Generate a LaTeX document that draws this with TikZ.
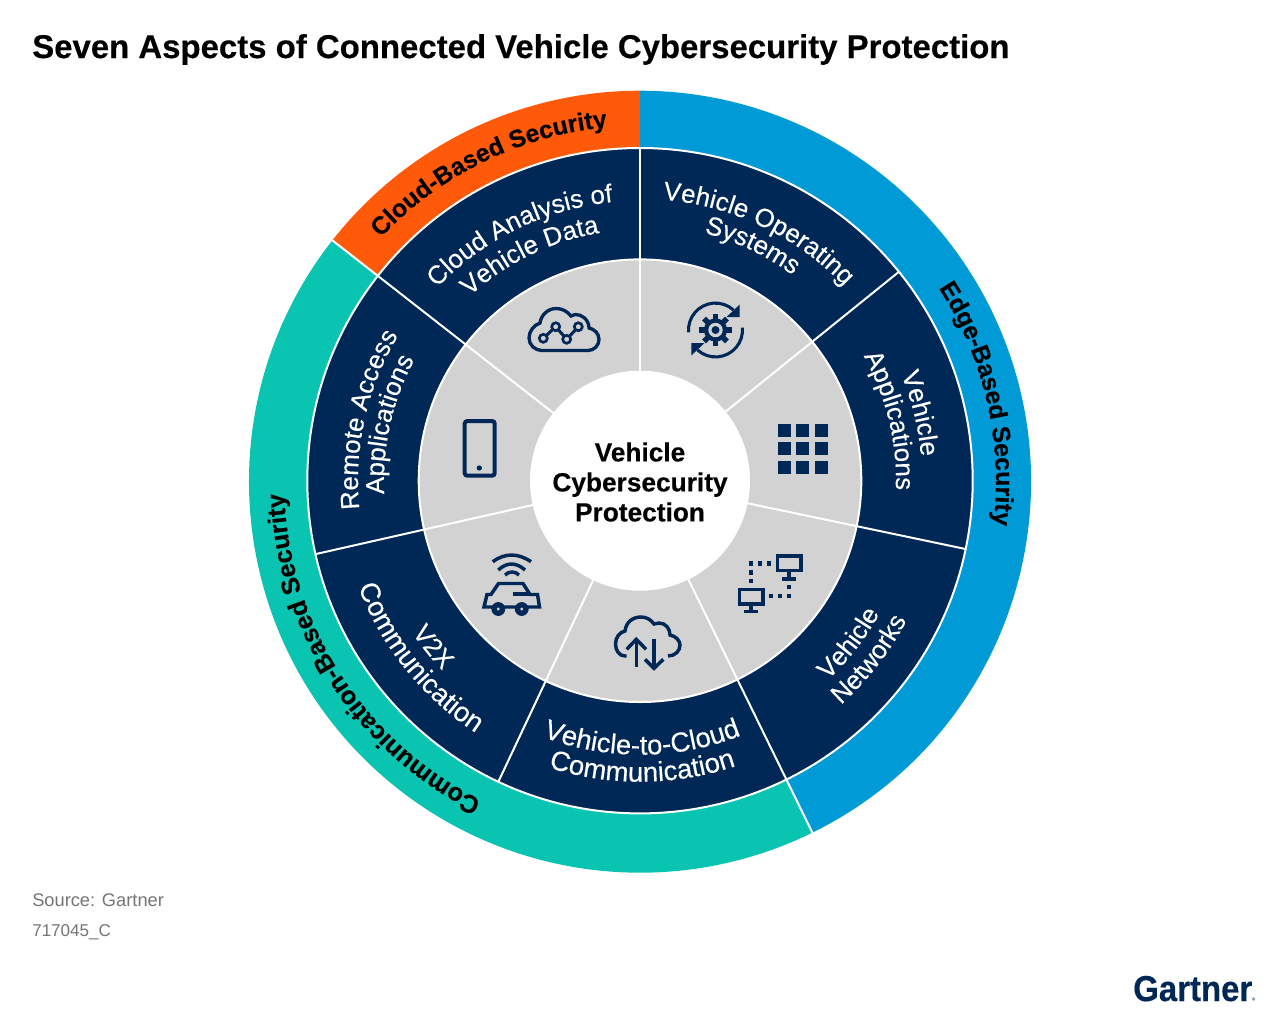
\documentclass[tikz,border=0pt]{standalone}
\usepackage{fontspec}
\setmainfont[BoldFeatures={FakeBold=0.35}]{Liberation Sans}
\newfontfamily\lblfam[FakeBold=0.25]{Liberation Sans}
\usetikzlibrary{decorations.text}
\definecolor{navy}{HTML}{002856}
\definecolor{wheelgray}{HTML}{D2D2D2}
\definecolor{tealc}{HTML}{08C4B1}
\definecolor{bluec}{HTML}{009AD7}
\definecolor{orangec}{HTML}{FF5A0A}
\definecolor{srcgray}{HTML}{757575}
\newcommand\lblfont{\lblfam\fontsize{19.4}{19.4}\selectfont\color{white}}
\newcommand\lblwide{\lblfam\fontsize{20.6}{20.6}\selectfont\color{white}}
\newcommand\ringfont{\fontsize{18.6}{18.6}\selectfont\bfseries\color{black}}
\newcommand\ringwide{\fontsize{19}{19}\selectfont\bfseries\color{black}}
% #1 colour, #2 inner r, #3 outer r, #4 start angle, #5 end angle (px)
\newcommand\wedgeseg[5]{\fill[#1] (#4:#3) arc[start angle=#4,end angle=#5,radius=#3*0.75pt] -- (#5:#2) arc[start angle=#5,end angle=#4,radius=#2*0.75pt] -- cycle;}
% #1 font, #2 radius, #3 start, #4 end, #5 text
\newcommand\arctext[5]{\path[decorate,decoration={text along path,text align=center,text={|#1|#5}}] (#3:#2) arc[start angle=#3,end angle=#4,radius=#2*0.75pt];}
\tikzset{
  icon/.style={draw=navy,line width=2.5pt,fill=none},
  iconthin/.style={draw=navy,line width=2.3pt,fill=none},
  divider/.style={draw=white,line width=1.5pt}
}
\begin{document}
\begin{tikzpicture}[x=.75pt,y=-.75pt]
\useasboundingbox (0,0) rectangle (1280,1015);
\fill[white] (0,0) rectangle (1280,1015);
\begin{scope}[shift={(640,481.7)},y=.75pt]
  \wedgeseg{orangec}{320}{391}{90}{142}
  \wedgeseg{tealc}{320}{391}{142}{296.1}
  \wedgeseg{bluec}{320}{391}{-63.9}{90}
  \arctext{\ringfont}{356}{141}{91}{Cloud-Based Security}
  \arctext{\ringfont}{356}{36}{-10}{Edge-Based Security}
  \arctext{\ringwide}{356}{248}{177.5}{Communication-Based Security}
\end{scope}
\begin{scope}[shift={(640,480.7)},y=.75pt]
  \fill[navy] (0,0) circle[radius=332.7*0.75pt];
  \fill[wheelgray] (0,0) circle[radius=221.3*0.75pt];
  \draw[divider] (0,0) circle[radius=332.7*0.75pt];
  \draw[divider] (0,0) circle[radius=221.3*0.75pt];
  \foreach \a in {90,38.9,-11.85,-63.9,-115.2,-167.25,142}
    \draw[divider] (\a:110) -- (\a:333);
  \foreach \a in {142,-63.9}
    \draw[divider] (\a:333) -- (\a:392.5);
  \fill[white] (0,0) circle[radius=110*0.75pt];
  % navy labels
  \arctext{\lblfont}{282}{90}{38.9}{Vehicle Operating}
  \arctext{\lblfont}{256}{90}{38.9}{Systems}
  \arctext{\lblfont}{282}{38.9}{-11.85}{Vehicle}
  \arctext{\lblfont}{256}{38.9}{-11.85}{Applications}
  \arctext{\lblfont}{274}{-63.9}{-11.85}{Vehicle}
  \arctext{\lblfont}{301}{-63.9}{-11.85}{Networks}
  \arctext{\lblwide}{274}{-115.2}{-63.9}{Vehicle-to-Cloud}
  \arctext{\lblwide}{301}{-115.2}{-63.9}{Communication}
  \arctext{\lblfont}{274}{-167.25}{-115.2}{V2X}
  \arctext{\lblwide}{301}{-167.25}{-115.2}{Communication}
  \arctext{\lblfont}{282}{192.75}{142}{Remote Access}
  \arctext{\lblfont}{256}{192.75}{142}{Applications}
  \arctext{\lblfont}{280}{142}{90}{Cloud Analysis of}
  \arctext{\lblfont}{251}{142}{90}{Vehicle Data}
\end{scope}
% centre
\node[align=center,font=\fontsize{19.7}{22.5}\selectfont\bfseries,text=black] (centre) at (640,482) {Vehicle\\Cybersecurity\\Protection};
% title etc
\node[anchor=base west,inner sep=0pt,font=\fontsize{24.7}{24.7}\selectfont\bfseries,text=black] (title) at (32,58) {Seven Aspects of Connected Vehicle Cybersecurity Protection};
\node[anchor=base west,inner sep=0pt,font=\fontsize{13.7}{13.7}\selectfont,text=srcgray] (source) at (32,906) {Source: Gartner};
\node[anchor=base west,inner sep=0pt,font=\fontsize{12.8}{12.8}\selectfont,text=srcgray] (docid) at (32,936) {717045\_C};
\node[anchor=base west,inner sep=0pt,font=\fontsize{27}{27}\selectfont\bfseries,text=navy,xscale=.915] (logo) at (1133,1001) {Gartner};
\fill[navy!45!white] (1253.5,999) circle[radius=1.4pt];
% cloud analysis icon
\draw[icon] (542,350.5) -- (588,350.5) .. controls (594,350.5) and (599,345.5) .. (599,339.5) .. controls (599,333) and (594,329) .. (589,328) .. controls (589,320) and (582,314) .. (575,314.5) .. controls (573,315) .. (571,316) .. controls (567,311) and (562,308.5) .. (556,308.5) .. controls (548,308.5) and (541,315) .. (540,323) .. controls (534,325) and (529,331) .. (529,338) .. controls (529,345) and (535,350.5) .. (542,350.5) -- cycle;
\draw[iconthin] (543.3,338.3) -- (555.7,326.7) -- (566.7,339.3) -- (578.3,326.7);
\foreach \p in {(543.3,338.3),(555.7,326.7),(566.7,339.3),(578.3,326.7)}
  \draw[iconthin,line width=2pt,fill=wheelgray] \p circle[radius=3pt];
% gear icon
\begin{scope}[shift={(715.5,330)},y=.75pt]
  \draw[iconthin] (185:27) arc[start angle=185,end angle=48,radius=20.2pt];
  \draw[iconthin] (5:27) arc[start angle=5,end angle=-132,radius=20.2pt];
  \fill[navy] (24.2,25.5) -- (24.2,13) -- (11,13) -- cycle;
  \fill[navy] (-24.2,-25.5) -- (-24.2,-13) -- (-11,-13) -- cycle;
  \foreach \a in {0,45,...,315}
    \fill[navy,rotate=\a] (-2.8,9) rectangle (2.8,16.2);
  \fill[navy] (0,0) circle[radius=8.7pt];
  \fill[wheelgray] (0,0) circle[radius=5.4pt];
  \fill[navy] (0,0) circle[radius=3pt];
\end{scope}
% phone
\draw[icon,rounded corners=2pt,line width=3pt] (464.7,421) rectangle (494.7,475.7);
\fill[navy] (479.3,468) circle[radius=2pt];
% grid
\foreach \x in {777.5,796,814.5} \foreach \y in {423.5,442,460.5}
  \fill[navy] (\x,\y) rectangle ++(13,13);
% wifi car
\draw[iconthin,line width=2.6pt] (492.7,561.7) .. controls (505,552.8) and (518,552.8) .. (531,561.7);
\draw[iconthin,line width=2.6pt] (498.3,570) .. controls (507,562) and (516,562) .. (525,570);
\draw[iconthin,line width=2.6pt] (505,575) .. controls (509,571) and (515,571) .. (519,575);
\draw[iconthin,line width=2.6pt,line join=miter] (484,607) -- (487,594.5) -- (491,594.5) -- (498.5,583.5) -- (523,583.5) -- (530,594.5) -- (537.5,594.5) -- (539.5,607) -- cycle;
\draw[iconthin,line width=2.6pt] (512.5,594) -- (530,594);
\foreach \p in {(498.3,609),(521.7,609)} {
  \fill[navy] \p circle[radius=5.2pt];
  \fill[wheelgray] \p circle[radius=1.2pt];
}
% cloud up/down icon
\draw[iconthin,line width=2.6pt] (626.5,656) -- (625,656) .. controls (619,656) and (615.5,650) .. (615.5,644) .. controls (615.5,637) and (620,632) .. (625,631) .. controls (626,622) and (633,617) .. (641,617) .. controls (647,617) and (651,620) .. (654,624) .. controls (656,623) .. (659,623) .. controls (666,623) and (670,629) .. (670,635) .. controls (676,636) and (680,641) .. (680,645) .. controls (680,651) and (675,656) .. (668,656);
\draw[iconthin,line width=2.6pt] (636.3,667.3) -- (636.3,640);
\draw[iconthin,line width=2.6pt] (626.7,649.3) -- (636.3,639.3) -- (646,649.3);
\draw[iconthin,line width=2.6pt] (654,639.3) -- (654,667);
\draw[iconthin,line width=2.6pt] (645,659.3) -- (654,668.3) -- (663.3,659.3);
% network icon
\draw[icon,line width=2.8pt] (777.5,556) rectangle (801,570.5);
\draw[icon] (789,571) -- (789,578);
\draw[icon] (782.3,579) -- (795.7,579);
\draw[icon,line width=2.8pt] (739.5,589.5) rectangle (763,604);
\draw[icon] (751,605) -- (751,611);
\draw[icon] (744,611.5) -- (757.7,611.5);
\foreach \p in {(751,563.3),(760,563.3),(769,563.3),(751,572.3),(751,581),(789,586.7),(789,595.7),(780,595.7),(771,595.7)}
  \fill[navy] \p ++(-2.2,-2.2) rectangle ++(4.4,4.4);
\end{tikzpicture}
\end{document}
